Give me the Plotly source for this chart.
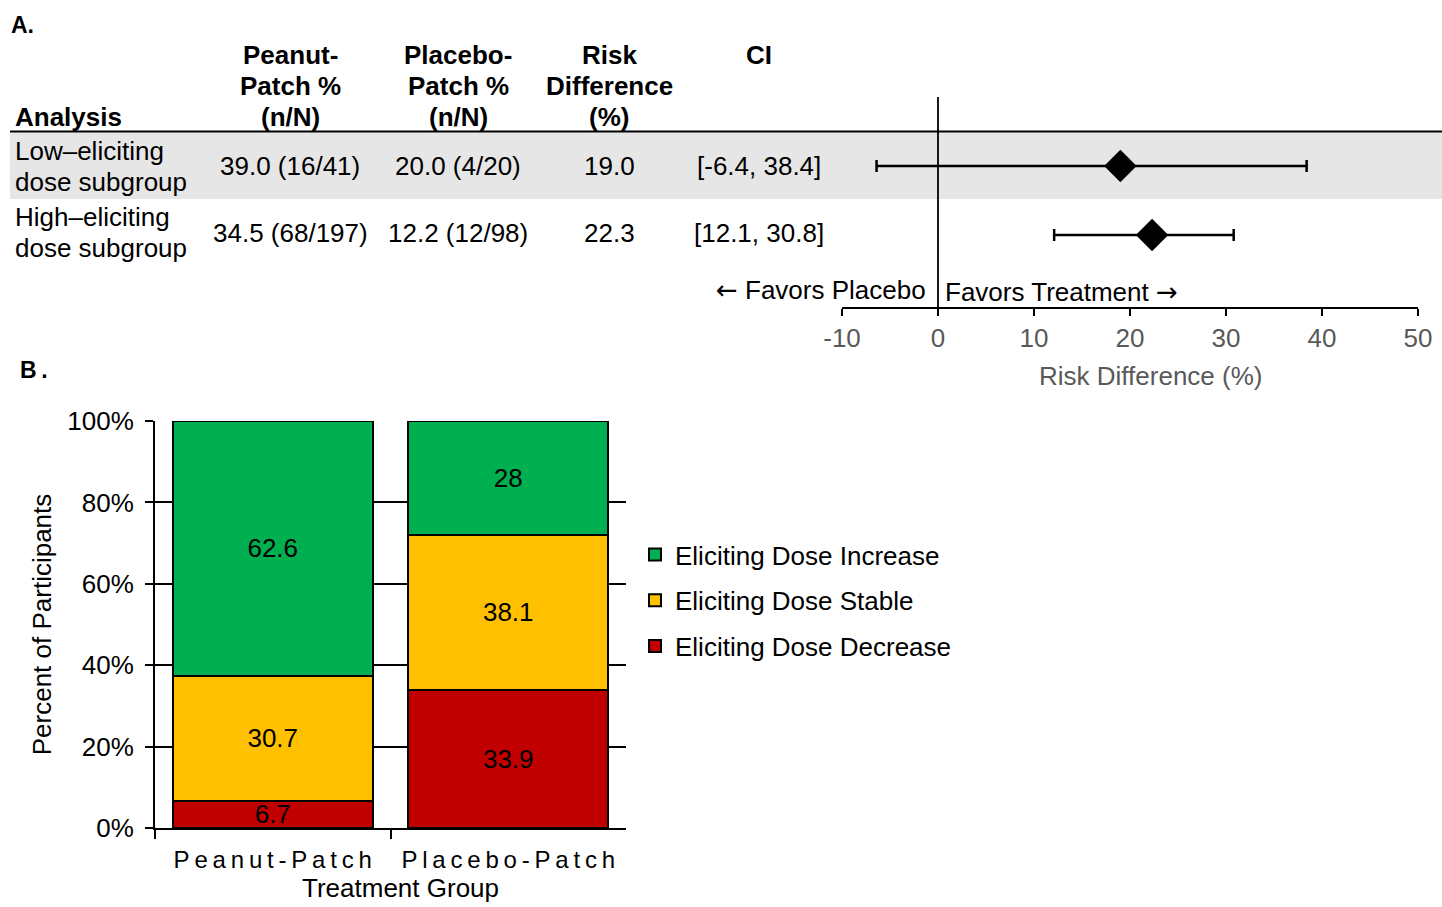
import plotly.graph_objects as go

W, H = 1442, 907
FONT = "Arial, 'Liberation Sans', sans-serif"
ARROW_STYLE = "font-family:DejaVu Sans"

# ---- Panel A: risk difference by eliciting-dose subgroup ----
header_labels = ["Analysis", "Peanut-<br>Patch %<br>(n/N)", "Placebo-<br>Patch %<br>(n/N)",
                 "Risk<br>Difference<br>(%)", "CI"]
subgroups = ["Low–eliciting<br>dose subgroup", "High–eliciting<br>dose subgroup"]
peanut_resp = ["39.0 (16/41)", "34.5 (68/197)"]
placebo_resp = ["20.0 (4/20)", "12.2 (12/98)"]
risk_diff = [19.0, 22.3]
ci_low = [-6.4, 12.1]
ci_high = [38.4, 30.8]
rd_ticks = [-10, 0, 10, 20, 30, 40, 50]

# ---- Panel B: change in eliciting dose by treatment group ----
groups = ["Peanut-Patch", "Placebo-Patch"]
dose_decrease = [6.7, 33.9]
dose_stable = [30.7, 38.1]
dose_increase = [62.6, 28]
pct_ticks = [0, 20, 40, 60, 80, 100]


def px(x):
    return x / W


def py(y):
    return 1 - y / H


fig = go.Figure()

# forest plot: point estimates with confidence intervals
rows = list(range(len(subgroups)))
fig.add_trace(go.Scatter(
    x=risk_diff, y=rows, mode="markers",
    marker=dict(symbol="diamond", size=25, color="black"),
    error_x=dict(type="data", symmetric=False,
                 array=[h - p for h, p in zip(ci_high, risk_diff)],
                 arrayminus=[p - l for p, l in zip(risk_diff, ci_low)],
                 color="black", thickness=2.5, width=6),
    showlegend=False, xaxis="x", yaxis="y", hoverinfo="skip"))

# stacked bars (legend lists increase first)
bar_series = [("Eliciting Dose Decrease", dose_decrease, "#C00000", 3),
              ("Eliciting Dose Stable", dose_stable, "#FFC000", 2),
              ("Eliciting Dose Increase", dose_increase, "#00B050", 1)]
for name, vals, color, rank in bar_series:
    fig.add_trace(go.Bar(
        x=groups, y=vals, name=name, legendgroup=name, legendrank=rank,
        marker=dict(color=color, line=dict(color="black", width=2)),
        text=[f"{v:g}" for v in vals], textposition="inside",
        insidetextanchor="middle", textangle=0, constraintext="none",
        textfont=dict(size=26, color="black", family=FONT),
        xaxis="x2", yaxis="y2"))

annotations = []
shapes = []

# panel letters
annotations.append(dict(text="<b>A.</b>", x=px(9), y=py(25), xref="paper", yref="paper",
                        xanchor="left", yanchor="middle", showarrow=False,
                        font=dict(size=23, family=FONT, color="black")))
annotations.append(dict(text="<b>B\u2009.</b>", x=px(18), y=py(370), xref="paper", yref="paper",
                        xanchor="left", yanchor="middle", showarrow=False,
                        font=dict(size=23, family=FONT, color="black")))

# table header
col_x = [13, 290, 458, 609, 759]
col_anchor = ["left", "center", "center", "center", "center"]
col_valign = ["bottom", "bottom", "bottom", "bottom", "top"]
header_line_y = [55, 86, 117]
for label, cx, anc, va in zip(header_labels, col_x, col_anchor, col_valign):
    lines = label.split("<br>")
    slots = header_line_y[-len(lines):] if va == "bottom" else header_line_y[:len(lines)]
    for ln, ly in zip(lines, slots):
        annotations.append(dict(text=f"<b>{ln}</b>", x=px(cx), y=py(ly), xref="paper",
                                yref="paper", xanchor=anc, yanchor="middle", showarrow=False,
                                font=dict(size=26, family=FONT, color="black")))

# table body
row_half = 15.5 / 69
row_shift = [0.0, -0.03]
for i in rows:
    yc = i + row_shift[i]
    for k, ln in enumerate(subgroups[i].split("<br>")):
        annotations.append(dict(text=ln, x=px(13), y=yc + (k - 0.5) * 2 * row_half,
                                xref="paper", yref="y", xanchor="left", yanchor="middle",
                                showarrow=False, font=dict(size=26, family=FONT, color="black")))
    cells = [peanut_resp[i], placebo_resp[i], f"{risk_diff[i]:.1f}",
             f"[{ci_low[i]}, {ci_high[i]}]"]
    for cell, cx in zip(cells, col_x[1:]):
        annotations.append(dict(text=cell, x=px(cx), y=yc, xref="paper", yref="y",
                                xanchor="center", yanchor="middle", showarrow=False,
                                font=dict(size=26, family=FONT, color="black")))

# direction labels
annotations.append(dict(text=f'<span style="{ARROW_STYLE}">←</span> Favors Placebo',
                        x=-1.0, y=1.8, xref="x", yref="y",
                        xanchor="right", yanchor="middle", showarrow=False,
                        font=dict(size=26, family=FONT, color="black")))
annotations.append(dict(text=f'Favors Treatment <span style="{ARROW_STYLE}">→</span>',
                        x=0.5, y=1.83, xref="x", yref="y",
                        xanchor="left", yanchor="middle", showarrow=False,
                        font=dict(size=26, family=FONT, color="black")))

# axis titles placed on the page
annotations.append(dict(text="Risk Difference (%)", x=px(1150), y=py(376), xref="paper",
                        yref="paper", xanchor="center", yanchor="middle", showarrow=False,
                        font=dict(size=26, family=FONT, color="#595959")))
annotations.append(dict(text="Treatment Group", x=px(400), y=py(888), xref="paper",
                        yref="paper", xanchor="center", yanchor="middle", showarrow=False,
                        font=dict(size=26, family=FONT, color="black")))

# shaded first row, header rule, null line
shapes.append(dict(type="rect", xref="paper", yref="y", x0=px(10), x1=1, y0=-0.49, y1=0.48,
                   fillcolor="#E6E6E6", line=dict(width=0), layer="below"))
shapes.append(dict(type="line", xref="paper", yref="y", x0=px(10), x1=1, y0=-0.5, y1=-0.5,
                   line=dict(color="black", width=2)))
shapes.append(dict(type="line", xref="x", yref="y domain", x0=0, x1=0, y0=0, y1=1,
                   line=dict(color="black", width=1.8), layer="below"))

fig.update_layout(
    width=W, height=H, margin=dict(l=0, r=0, t=0, b=0, pad=0),
    paper_bgcolor="white", plot_bgcolor="rgba(0,0,0,0)",
    font=dict(family=FONT, size=26, color="black"),
    barmode="stack", bargap=0.15,
    annotations=annotations, shapes=shapes,
    xaxis=dict(domain=[px(842), px(1418)], range=[-10, 50], anchor="y",
               tickmode="array", tickvals=rd_ticks, ticktext=[str(v) for v in rd_ticks],
               showgrid=False, zeroline=False,
               showline=True, linecolor="black", linewidth=2,
               ticks="outside", ticklen=7, tickwidth=2, tickcolor="black",
               tickfont=dict(size=26, color="#595959", family=FONT), ticklabelstandoff=0,
               automargin=False, fixedrange=True),
    yaxis=dict(domain=[py(307), py(97)], range=[2.0435, -1.0], anchor="x",
               visible=False, showgrid=False, zeroline=False, automargin=False),
    xaxis2=dict(domain=[px(155), px(626)], anchor="y2", type="category",
                tickmode="array", tickvals=groups,
                ticktext=["\u2009".join(g) for g in groups],
                tickson="boundaries", ticks="outside", ticklen=9, tickwidth=2,
                tickcolor="black", showline=True, linecolor="black", linewidth=2,
                showgrid=False, tickfont=dict(size=24, color="black", family=FONT),
                ticklabelstandoff=9, automargin=False),
    yaxis2=dict(domain=[py(828), py(421)], range=[0, 100], anchor="x2",
                tickmode="array", tickvals=pct_ticks, ticktext=[f"{v}%" for v in pct_ticks],
                showgrid=True, gridcolor="black",
                gridwidth=2, zeroline=False, showline=True, linecolor="black", linewidth=2,
                ticks="outside", ticklen=8, tickwidth=2, tickcolor="black",
                tickfont=dict(size=26, color="black", family=FONT), ticklabelstandoff=6,
                title=dict(text="Percent of Participants", standoff=8,
                           font=dict(size=26, color="black", family=FONT)),
                automargin=False),
    legend=dict(x=px(635), y=py(531), xanchor="left", yanchor="top",
                traceorder="grouped", tracegroupgap=9,
                font=dict(size=26, color="black", family=FONT),
                bgcolor="rgba(0,0,0,0)", borderwidth=0),
)

fig.write_html("out.html")
